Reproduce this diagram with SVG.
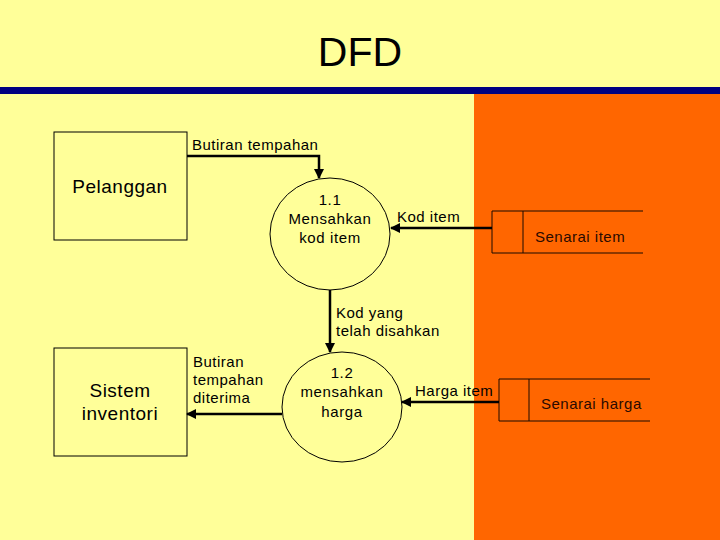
<svg xmlns="http://www.w3.org/2000/svg" width="720" height="540" viewBox="0 0 720 540">
<defs>
<style>
text{font-family:"Liberation Sans",Arial,sans-serif;fill:#000}
.lbl{font-size:15px;letter-spacing:0.5px}
.ent{font-size:19px;letter-spacing:0.5px;text-anchor:middle}
.proc{font-size:15px;letter-spacing:0.6px;text-anchor:middle}
.box{fill:none;stroke:#000;stroke-width:1}
.circ{fill:none;stroke:#000;stroke-width:1}
.store{fill:none;stroke:#1a0a00;stroke-width:1}
.stxt{font-size:15px;letter-spacing:0.5px;fill:#2a0a00}
.flow{fill:none;stroke:#000;stroke-width:2.5}
</style>
<marker id="ah" viewBox="0 0 10 10" refX="9" refY="5" markerWidth="4" markerHeight="4" orient="auto" markerUnits="strokeWidth">
<path d="M0,0 L10,5 L0,10 z" fill="#000"/>
</marker>
</defs>
<rect x="0" y="0" width="720" height="540" fill="#FFFF99"/>
<rect x="474" y="93" width="246" height="447" fill="#FF6600"/>
<rect x="0" y="87" width="720" height="7" fill="#000080"/>
<text x="360" y="66" text-anchor="middle" style="font-size:41px">DFD</text>

<g id="pelanggan">
<rect class="box" x="54" y="132" width="133" height="108"/>
<text class="ent" x="120" y="193">Pelanggan</text>
</g>
<g id="sistem-inventori">
<rect class="box" x="54" y="348" width="133" height="108"/>
<text class="ent" x="120" y="397">Sistem</text>
<text class="ent" x="120" y="420">inventori</text>
</g>
<g id="p11">
<ellipse class="circ" cx="330" cy="234" rx="60" ry="56"/>
<text class="proc" x="330" y="205">1.1</text>
<text class="proc" x="330" y="224">Mensahkan</text>
<text class="proc" x="330" y="243">kod item</text>
</g>
<g id="p12">
<ellipse class="circ" cx="342" cy="407" rx="60" ry="55"/>
<text class="proc" x="342" y="378">1.2</text>
<text class="proc" x="342" y="397">mensahkan</text>
<text class="proc" x="342" y="417">harga</text>
</g>
<g id="senarai-item">
<path class="store" d="M643,211 H492 V253 H643 M523,211 V253"/>
<text class="stxt" x="535" y="242">Senarai item</text>
</g>
<g id="senarai-harga">
<path class="store" d="M650,379 H499 V421 H650 M529,379 V421"/>
<text class="stxt" x="541" y="409">Senarai harga</text>
</g>

<g id="connectors">
<path class="flow" d="M187,156 H319 V178" marker-end="url(#ah)"/>
<text class="lbl" x="192" y="150">Butiran tempahan</text>
<path class="flow" d="M492,228 H391" marker-end="url(#ah)"/>
<text class="lbl" x="397" y="222">Kod item</text>
<path class="flow" d="M330,290 V352" marker-end="url(#ah)"/>
<text class="lbl" x="336" y="318">Kod yang</text>
<text class="lbl" x="336" y="336">telah disahkan</text>
<path class="flow" d="M499,402 H402" marker-end="url(#ah)"/>
<text class="lbl" x="415" y="396">Harga item</text>
<path class="flow" d="M282,414 H187" marker-end="url(#ah)"/>
<text class="lbl" x="193" y="367">Butiran</text>
<text class="lbl" x="193" y="385">tempahan</text>
<text class="lbl" x="193" y="403">diterima</text>
</g>
</svg>
